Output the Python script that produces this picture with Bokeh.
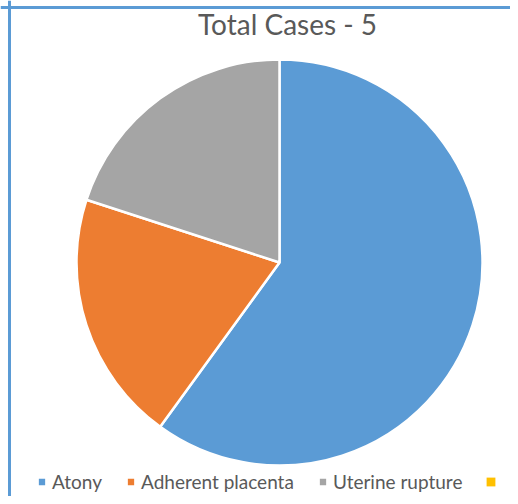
import math
from bokeh.plotting import figure
from bokeh.models import Span, Label, Range1d, Legend, LegendItem
from bokeh.embed import file_html
from bokeh.resources import INLINE

title_text = "Total Cases - 5"
categories = ["Atony", "Adherent placenta", "Uterine rupture", ""]
values = [3, 1, 1, 0]
colors = ["#5B9BD5", "#ED7D31", "#A5A5A5", "#FFC000"]

W, H = 510, 496
CX, CY, R = 279, 234, 203

total = sum(values)
p = figure(width=W, height=H, output_backend="svg", toolbar_location=None,
           x_range=Range1d(0, W), y_range=Range1d(0, H), min_border=0,
           outline_line_color=None)
p.axis.visible = False
p.grid.visible = False

items = []
cum = 0.0
for cat, v, c in zip(categories, values, colors):
    start = math.pi / 2 - 2 * math.pi * cum / total
    cum += v
    end = math.pi / 2 - 2 * math.pi * cum / total
    r = p.wedge(x=CX, y=CY, radius=R if v > 0 else 0, start_angle=start,
                end_angle=end, direction="clock", fill_color=c,
                line_color="white", line_width=2.5)
    if v == 0:
        r.glyph.line_alpha = 0
    items.append(LegendItem(label=cat, renderers=[r]))

p.add_layout(Span(location=9, dimension="height", line_color="#5B9BD5", line_width=3))
p.add_layout(Span(location=H - 7, dimension="width", line_color="#5B9BD5", line_width=3))

p.add_layout(Label(x=287, y=H - 23, text=title_text, text_align="center",
                   text_baseline="middle", text_font="Lato", text_font_size="28px",
                   text_color="#595959"))

lg = Legend(items=items, orientation="horizontal", location=(36, 3),
            glyph_width=11, glyph_height=11, label_standoff=5, spacing=23,
            padding=0, margin=0, border_line_color=None,
            background_fill_alpha=0, label_text_font="Lato",
            label_text_font_size="19px", label_text_color="#595959")
p.add_layout(lg, "center")

open("out.html", "w").write(file_html(p, INLINE))
